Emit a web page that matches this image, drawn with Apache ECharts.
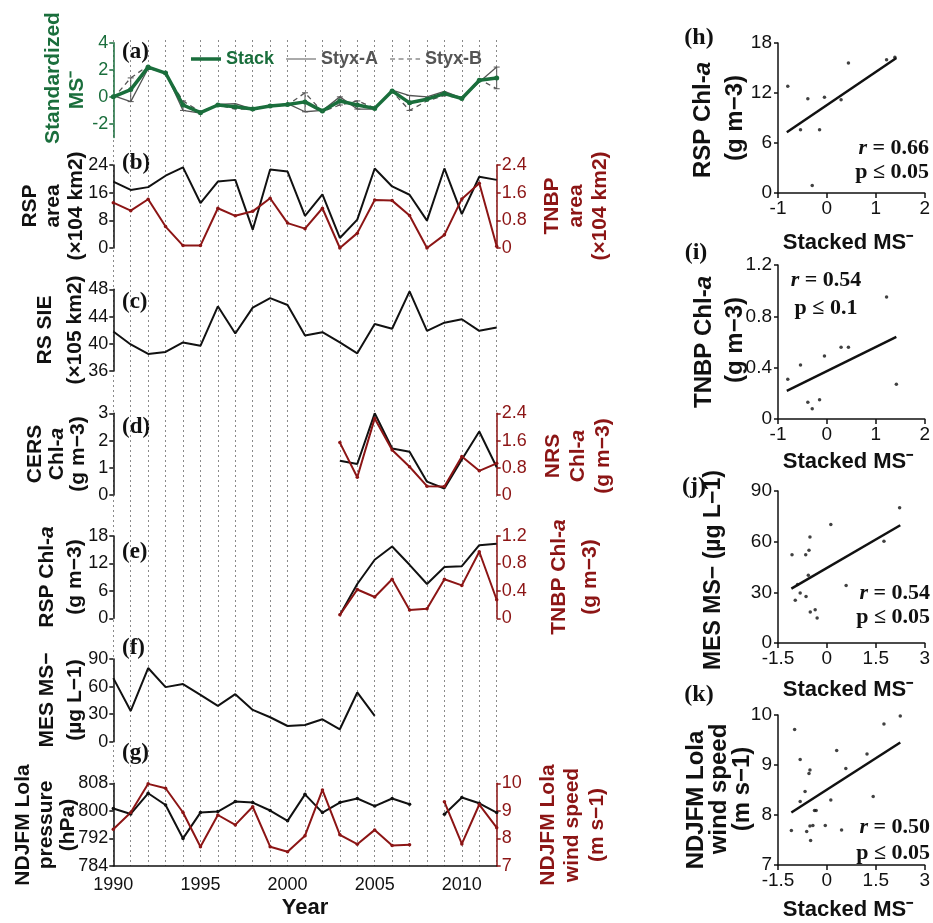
<!DOCTYPE html>
<html><head><meta charset="utf-8">
<script src="https://cdn.jsdelivr.net/npm/echarts@6/dist/echarts.min.js"></script>
<style>html,body{margin:0;padding:0;background:#fff}#c{width:933px;height:923px}</style>
</head><body><div id="c"></div>
<script>
// ---------- data ----------
const years = [1990,1991,1992,1993,1994,1995,1996,1997,1998,1999,2000,2001,2002,2003,2004,2005,2006,2007,2008,2009,2010,2011,2012];
const stack = [0.0,0.54,2.2,1.76,-0.6,-1.17,-0.6,-0.73,-0.9,-0.68,-0.56,-0.37,-1.05,-0.3,-0.6,-0.85,0.44,-0.44,-0.17,0.24,-0.12,1.22,1.39];
const styxA = [0.1,-0.35,2.1,1.8,-1.0,-1.2,-0.55,-0.5,-0.9,-0.7,-0.5,-1.1,-1.0,0.0,-0.9,-0.9,0.5,0.1,0.0,0.4,-0.1,1.1,2.2];
const styxB = [-0.1,1.4,2.3,1.7,-0.3,-1.1,-0.6,-0.9,-0.9,-0.7,-0.6,0.3,-1.1,-0.6,-0.3,-0.8,0.4,-1.0,-0.3,0.1,-0.1,1.3,0.6];
const rspArea = [19.2,16.8,17.6,20.9,23.3,13.0,19.2,19.7,5.3,22.7,22.1,9.3,15.5,2.9,8.2,23.0,17.8,15.4,7.9,23.0,9.8,20.6,19.7];
const tnbpArea = [1.31,1.08,1.41,0.62,0.07,0.07,1.15,0.93,1.06,1.44,0.72,0.56,1.15,0.0,0.43,1.39,1.37,0.94,0.0,0.38,1.42,1.87,0.05];
const rsSIE = [41.8,39.9,38.5,38.8,40.2,39.7,45.5,41.5,45.3,46.7,45.7,41.2,41.7,40.2,38.6,42.9,42.2,47.7,41.9,43.1,43.6,41.9,42.4];
const chlYears = [2003,2004,2005,2006,2007,2008,2009,2010,2011,2012];
const cersChl = [1.26,1.14,3.0,1.71,1.59,0.49,0.24,1.3,2.33,1.02];
const nrsChl = [1.54,0.52,2.25,1.32,0.83,0.26,0.25,1.13,0.71,0.93];
const rspChl = [0.73,7.5,12.8,15.7,11.7,7.5,11.2,11.4,16.0,16.3];
const tnbpChl = [0.05,0.42,0.31,0.57,0.12,0.14,0.57,0.48,0.97,0.27];
const mesYears = [1990,1991,1992,1993,1994,1995,1996,1997,1998,1999,2000,2001,2002,2003,2004,2005];
const mesMS = [69.2,33.5,80.2,59.4,62.7,51.0,39.0,51.7,34.6,26.6,17.1,18.2,24.4,13.5,53.6,28.1];
const lolaP = [800.7,799.1,805.1,801.7,792.0,799.5,799.8,802.7,802.4,800.1,797.1,804.8,799.5,802.4,803.6,801.4,803.6,801.9,null,799.0,803.9,802.2,799.5];
const lolaW = [8.33,8.94,9.98,9.82,8.94,7.70,8.85,8.49,9.15,7.70,7.52,8.10,9.76,8.13,7.79,8.31,7.74,7.77,null,9.33,7.80,9.23,8.39];

const hX = [-0.80,-0.54,-0.39,-0.30,-0.15,-0.05,0.29,0.44,1.22,1.39];
const hY = [12.8,7.6,11.3,0.9,7.6,11.5,11.2,15.6,16.0,16.3];
const iX = [-0.80,-0.54,-0.39,-0.30,-0.15,-0.05,0.29,0.44,1.22,1.42];
const iY = [0.31,0.42,0.13,0.08,0.15,0.49,0.56,0.56,0.95,0.27];
const jX = [-1.07,-0.97,-0.82,-0.65,-0.64,-0.55,-0.52,-0.57,-0.51,-0.36,-0.30,0.12,0.59,1.75,2.23,-0.90];
const jY = [52.3,25.3,29.6,52.3,27.6,54.9,62.8,40.1,18.4,19.7,14.8,70.1,34.1,60.2,80.1,34.6];
const kX = [-0.99,-0.82,-1.09,-0.67,-0.82,-0.52,-0.55,-0.38,-0.33,-0.43,-0.52,-0.62,-0.50,-0.05,0.12,0.45,0.30,0.58,1.23,1.42,1.75,2.25];
const kY = [9.71,9.11,7.69,8.47,8.27,8.90,8.83,8.09,8.09,7.79,7.78,7.67,7.49,7.79,8.30,7.70,9.29,8.93,9.22,8.37,9.82,9.98];
const hFitX = [-0.82,1.42], hFitY = [7.3,16.2];
const iFitX = [-0.82,1.42], iFitY = [0.22,0.64];
const jFitX = [-1.09,2.25], jFitY = [32.2,69.7];
const kFitX = [-1.09,2.25], kFitY = [8.05,9.45];

const xTickYears = [1990,1995,2000,2005,2010];

// ---------- styles ----------
const GREEN = '#1a6e3c', RED = '#8c1515', BLACK = '#111', GRAY = '#555';
const SANS = '"Liberation Sans", Arial, sans-serif';
const SERIF = '"Liberation Serif", "Times New Roman", serif';
const zip = (xs, ys) => xs.map((x, i) => [x, ys[i]]);

const LX = 113.3, LW = 383.4;
function lgrid(top, bottom) { return {left: LX, top: top, width: LW, height: bottom - top}; }
function sgrid(top, bottom) { return {left: 778, top: top, width: 151, height: bottom - top}; }

const grids = [
  lgrid(40, 866),          // 0 background dotted
  lgrid(42.7, 137.5),      // 1 a
  lgrid(165, 248),         // 2 b
  lgrid(289.3, 371),       // 3 c
  lgrid(413.3, 495),       // 4 d
  lgrid(536, 618.3),       // 5 e
  lgrid(659, 741.7),       // 6 f
  lgrid(783.3, 866),       // 7 g
  sgrid(43, 193),          // 8 h
  sgrid(265, 419),         // 9 i
  sgrid(491, 643),         // 10 j
  sgrid(715, 865)          // 11 k
];

function hiddenX(gi) {
  return {type:'value', gridIndex: gi, min:1990, max:2012, show:false};
}
const xAxes = [
  {type:'value', gridIndex:0, min:1990, max:2012, interval:1,
   axisLine:{show:false}, axisTick:{show:false}, axisLabel:{show:false},
   splitLine:{show:true, lineStyle:{color:'#8a8a8a', type:[2,3], width:1}}},
  hiddenX(1), hiddenX(2), hiddenX(3), hiddenX(4), hiddenX(5), hiddenX(6),
  {type:'value', gridIndex:7, min:1990, max:2012, interval:5,
   axisLine:{show:true, onZero:false, lineStyle:{color:BLACK, width:1.5}},
   axisTick:{show:false},
   axisLabel:{color:BLACK, fontSize:18, fontFamily:SANS, margin:10,
     customValues: xTickYears, formatter: function(v){ return String(v); }},
   splitLine:{show:false},
   name:'Year', nameLocation:'middle', nameGap:31,
   nameTextStyle:{color:BLACK, fontSize:22, fontWeight:'bold', fontFamily:SANS}}
];
function sx(gi, min, max, interval) {
  return {type:'value', gridIndex:gi, min:min, max:max, interval:interval,
    axisLine:{show:true, onZero:false, lineStyle:{color:BLACK, width:1.5}},
    axisTick:{show:true, length:5, lineStyle:{color:BLACK, width:1.5}},
    axisLabel:{color:BLACK, fontSize:19, fontFamily:SANS, margin:6},
    splitLine:{show:false}};
}
xAxes.push(sx(8,-1,2,1), sx(9,-1,2,1), sx(10,-1.5,3,1.5), sx(11,-1.5,3,1.5));

function yax(gi, min, max, interval, pos, color, extra) {
  const a = {type:'value', gridIndex:gi, min:min, max:max, interval:interval, position:pos,
    axisLine:{show:true, onZero:false, lineStyle:{color:color, width:1.5}},
    axisTick:{show:true, length:4, lineStyle:{color:color, width:1.5}},
    axisLabel:{color:color, fontSize:18, fontFamily:SANS, margin:5},
    splitLine:{show:false}};
  return Object.assign(a, extra || {});
}
const SLAB = {axisLabel:{color:BLACK,fontSize:19,fontFamily:SANS,margin:6}};
const yAxes = [
  {type:'value', gridIndex:0, min:0, max:1, show:false},                  // 0
  yax(1, -3, 4, 1, 'left', GREEN),                                          // 1 a
  yax(2, 0, 24, 8, 'left', BLACK),                                          // 2 b left
  yax(2, 0, 2.4, 0.8, 'right', RED),                                        // 3 b right
  yax(3, 36, 48, 4, 'left', BLACK),                                         // 4 c
  yax(4, 0, 3, 1, 'left', BLACK),                                           // 5 d left
  yax(4, 0, 2.4, 0.8, 'right', RED),                                        // 6 d right
  yax(5, 0, 18, 6, 'left', BLACK),                                          // 7 e left
  yax(5, 0, 1.2, 0.4, 'right', RED),                                        // 8 e right
  yax(6, 0, 90, 30, 'left', BLACK),                                         // 9 f
  yax(7, 784, 808, 8, 'left', BLACK),                                       // 10 g left
  yax(7, 7, 10, 1, 'right', RED),                                           // 11 g right
  yax(8, 0, 18, 6, 'left', BLACK, SLAB),
  yax(9, 0, 1.2, 0.4, 'left', BLACK, SLAB),
  yax(10, 0, 90, 30, 'left', BLACK, SLAB),
  yax(11, 7, 10, 1, 'left', BLACK, SLAB)
];
// panel (a): labels only at -2..4
yAxes[1].axisLabel.customValues = [-2,0,2,4];
yAxes[1].axisTick.customValues = [-2,0,2,4];

function ln(name, xi, yi, data, color, width, opts) {
  return Object.assign({type:'line', name:name, xAxisIndex:xi, yAxisIndex:yi, data:data,
    showSymbol:false, symbol:'none', lineStyle:{color:color, width:width}, itemStyle:{color:color},
    connectNulls:false, animation:false, silent:true}, opts || {});
}
const dot = (c, s) => ({showSymbol:true, symbol:'circle', symbolSize:s, itemStyle:{color:c}});

const errData = years.map((y, i) => [y, Math.min(styxA[i], styxB[i]), Math.max(styxA[i], styxB[i])]);

const series = [
  ln('Styx-A', 1, 1, zip(years, styxA), GRAY, 1.3),
  ln('Styx-B', 1, 1, zip(years, styxB), GRAY, 1.3, {lineStyle:{color:GRAY, width:1.3, type:[5,4]}}),
  {type:'custom', name:'err', xAxisIndex:1, yAxisIndex:1, data:errData, silent:true, animation:false,
   renderItem: function(params, api) {
     const x = api.value(0), lo = api.value(1), hi = api.value(2);
     const p1 = api.coord([x, lo]), p2 = api.coord([x, hi]);
     if (Math.abs(p1[1]-p2[1]) < 6) return null;
     const st = {stroke:GRAY, lineWidth:1};
     return {type:'group', children:[
       {type:'line', shape:{x1:p1[0], y1:p1[1], x2:p2[0], y2:p2[1]}, style:st},
       {type:'line', shape:{x1:p1[0]-3, y1:p1[1], x2:p1[0]+3, y2:p1[1]}, style:st},
       {type:'line', shape:{x1:p2[0]-3, y1:p2[1], x2:p2[0]+3, y2:p2[1]}, style:st}
     ]};
   }},
  ln('Stack', 1, 1, zip(years, stack), GREEN, 3.5, dot(GREEN, 5)),
  ln('RSP area', 2, 2, zip(years, rspArea), BLACK, 2),
  ln('TNBP area', 2, 3, zip(years, tnbpArea), RED, 2, dot(RED, 3.5)),
  ln('RS SIE', 3, 4, zip(years, rsSIE), BLACK, 2),
  ln('CERS', 4, 5, zip(chlYears, cersChl), BLACK, 2),
  ln('NRS', 4, 6, zip(chlYears, nrsChl), RED, 2, dot(RED, 3.5)),
  ln('RSP Chl', 5, 7, zip(chlYears, rspChl), BLACK, 2),
  ln('TNBP Chl', 5, 8, zip(chlYears, tnbpChl), RED, 2, dot(RED, 3.5)),
  ln('MES', 6, 9, zip(mesYears, mesMS), BLACK, 2),
  ln('Lola P', 7, 10, zip(years, lolaP), BLACK, 2, dot(BLACK, 3.5)),
  ln('Lola W', 7, 11, zip(years, lolaW), RED, 2, dot(RED, 3.5)),
];
function scat(xi, yi, xs, ys, fx, fy) {
  series.push({type:'scatter', xAxisIndex:xi, yAxisIndex:yi, data:zip(xs, ys), symbolSize:3.5,
    itemStyle:{color:BLACK}, silent:true, animation:false});
  series.push(ln('fit', xi, yi, zip(fx, fy), BLACK, 2.5));
}
scat(8, 12, hX, hY, hFitX, hFitY);
scat(9, 13, iX, iY, iFitX, iFitY);
scat(10, 14, jX, jY, jFitX, jFitY);
scat(11, 15, kX, kY, kFitX, kFitY);

// ---------- text ----------
const g = [];
const IT = (size, color) => ({fontStyle:'italic', fontWeight:'bold', fontSize:size, fontFamily:SANS, fill:color});
function vt(x, y, text, color, size) {
  size = size || 21;
  g.push({type:'text', x:x, y:y, rotation:Math.PI/2, silent:true,
    style:{text:text, fill:color, fontSize:size, fontWeight:'bold', fontFamily:SANS,
      textAlign:'center', textVerticalAlign:'middle', align:'center', verticalAlign:'middle',
      rich:{i: IT(size, color), n:{fontWeight:'bold', fontSize:size, fontFamily:SANS, fill:color}}}});
}
function ht(x, y, text, opts) {
  g.push({type:'text', x:x, y:y, silent:true,
    style:Object.assign({text:text, fill:BLACK, fontSize:20, fontWeight:'bold', fontFamily:SANS,
      textAlign:'center', textVerticalAlign:'middle', align:'center', verticalAlign:'middle'}, opts || {})});
}
// left panels
vt(53, 78, 'Standardized', GREEN); vt(77, 90, 'MS⁻', GREEN);
vt(30, 206, 'RSP', BLACK); vt(53, 206, 'area', BLACK); vt(76, 206, '(×104 km2)', BLACK);
vt(552, 206, 'TNBP', RED); vt(576, 206, 'area', RED); vt(600, 206, '(×104 km2)', RED);
vt(45, 330, 'RS SIE', BLACK); vt(75, 330, '(×105 km2)', BLACK);
vt(35, 454, 'CERS', BLACK); vt(57, 454, '{n|Chl-}{i|a}', BLACK); vt(78, 454, '(g m−3)', BLACK);
vt(553, 456, 'NRS', RED); vt(578, 456, '{n|Chl-}{i|a}', RED); vt(603, 456, '(g m−3)', RED);
vt(47, 577, '{n|RSP Chl-}{i|a}', BLACK); vt(75, 577, '(g m−3)', BLACK);
vt(559, 577, '{n|TNBP Chl-}{i|a}', RED); vt(590, 577, '(g m−3)', RED);
vt(47, 700, 'MES MS−', BLACK); vt(75, 700, '(µg L−1)', BLACK);
vt(23, 825, 'NDJFM Lola', BLACK); vt(46, 825, 'pressure', BLACK); vt(68, 825, '(hPa)', BLACK);
vt(548, 825, 'NDJFM Lola', RED); vt(572, 825, 'wind speed', RED); vt(597, 825, '(m s−1)', RED);
// right panels
vt(703, 120, '{n|RSP Chl-}{i|a}', BLACK, 24); vt(735, 118, '(g m−3)', BLACK, 24);
vt(704, 342, '{n|TNBP Chl-}{i|a}', BLACK, 24); vt(735, 340, '(g m−3)', BLACK, 24);
vt(714, 570, 'MES MS− (µg L−1)', BLACK, 23);
vt(696, 800, 'NDJFM Lola', BLACK, 24); vt(719, 789, 'wind speed', BLACK, 24); vt(742, 789, '(m s−1)', BLACK, 24);
['(h)','(i)','(j)','(k)'].forEach(function(t, k){
  ht([699,696,694,699][k], [38,253,487,695][k], t, {fontFamily:SERIF, fontSize:24});
});
[243, 462, 690, 910].forEach(function(y){ ht(848, y, 'Stacked MS⁻', {fontSize:22}); });
// panel letters
[['(a)',52],['(b)',163],['(c)',302],['(d)',427],['(e)',552],['(f)',648],['(g)',753]].forEach(function(p){
  ht(122, p[1], p[0], {fontFamily:SERIF, fontSize:23, textAlign:'left', align:'left'});
});
// statistics
const statRich = {r:{fontStyle:'italic', fontWeight:'bold', fontSize:22, fontFamily:SERIF, fill:BLACK},
                  n:{fontWeight:'bold', fontSize:22, fontFamily:SERIF, fill:BLACK}};
function stat(x, y, text, align) {
  ht(x, y, text, {fontFamily:SERIF, fontSize:22, textAlign:align, align:align, rich:statRich});
}
stat(929, 148, '{r|r}{n| = 0.66}', 'right'); stat(929, 172, '{n|p ≤ 0.05}', 'right');
stat(826, 280, '{r|r}{n| = 0.54}', 'center'); stat(826, 308, '{n|p ≤ 0.1}', 'center');
stat(930, 593, '{r|r}{n| = 0.54}', 'right'); stat(930, 617, '{n|p ≤ 0.05}', 'right');
stat(930, 827, '{r|r}{n| = 0.50}', 'right'); stat(930, 853, '{n|p ≤ 0.05}', 'right');

const chart = echarts.init(document.getElementById('c'), null, {renderer:'canvas'});
chart.setOption({
  animation:false,
  backgroundColor:'#fff',
  grid: grids,
  xAxis: xAxes,
  yAxis: yAxes,
  legend: {show:true, left:186, top:45, itemWidth:30, itemHeight:10, itemGap:12,
    selectedMode:false,
    textStyle:{fontSize:18, fontWeight:'bold', fontFamily:SANS},
    data:[{name:'Stack', textStyle:{color:GREEN}, icon:'path://M0,3.5 L30,3.5 L30,7 L0,7 Z', itemStyle:{color:GREEN}},
          {name:'Styx-A', textStyle:{color:GRAY}, icon:'path://M0,4.6 L30,4.6 L30,5.6 L0,5.6 Z', itemStyle:{color:GRAY}},
          {name:'Styx-B', textStyle:{color:GRAY}, icon:'path://M0,4.6h5v1h-5z M8.5,4.6h5v1h-5z M17,4.6h5v1h-5z M25.5,4.6h4.5v1h-4.5z', itemStyle:{color:GRAY}}]},
  series: series,
  graphic: g
});
</script></body></html>
